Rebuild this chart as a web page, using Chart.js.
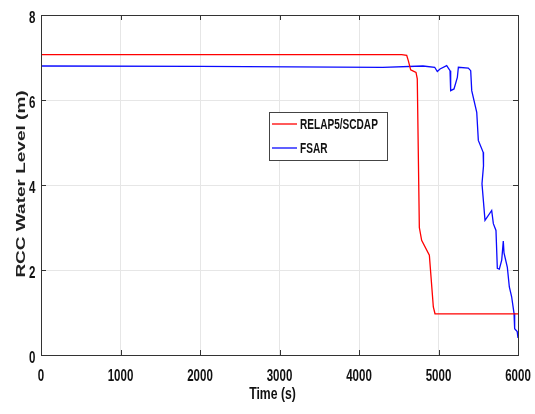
<!DOCTYPE html>
<html>
<head>
<meta charset="utf-8">
<script src="https://cdn.jsdelivr.net/npm/chart.js@4.4.1/dist/chart.umd.min.js"></script>
<style>
  html, body { margin: 0; padding: 0; background: #fff; }
  #wrap { width: 535px; height: 414px; position: relative; }
</style>
</head>
<body>
<div id="wrap"><canvas id="c"></canvas></div>
<script>
// RCC water level vs. time, two code predictions
const relapTime  = [0, 4537, 4600, 4621, 4650, 4683, 4717, 4733, 4759, 4788, 4885, 4935, 4956, 6000];
const relapLevel = [7.07, 7.07, 7.05, 6.92, 6.71, 6.68, 6.65, 6.5, 3.0, 2.7, 2.35, 1.13, 0.97, 0.97];

const fsarTime  = [0, 2000, 4300, 4805, 4952, 4985, 5019, 5103, 5145, 5153, 5195, 5237, 5250, 5375, 5405, 5418, 5481, 5501, 5562, 5566, 5547, 5585, 5669, 5690, 5723, 5740, 5765, 5795, 5815, 5824, 5866, 5891, 5920, 5950, 5958, 5990, 6000];
const fsarLevel = [6.80, 6.79, 6.77, 6.80, 6.77, 6.67, 6.73, 6.81, 6.69, 6.22, 6.26, 6.53, 6.77, 6.75, 6.69, 6.22, 5.71, 5.05, 4.77, 4.45, 4.03, 3.17, 3.40, 3.09, 2.93, 2.04, 2.02, 2.23, 2.68, 2.40, 2.06, 1.60, 1.37, 0.98, 0.62, 0.55, 0.40];

const seriesNames = ['RELAP5/SCDAP', 'FSAR'];
const xTicks = [0, 1000, 2000, 3000, 4000, 5000, 6000];
const yTicks = [0, 2, 4, 6, 8];
const xTitle = 'Time (s)';
const yTitle = 'RCC Water Level (m)';

const SANS = '"Liberation Sans", Arial, Helvetica, sans-serif';
const SQUEEZE = 0.72; // horizontal compression of the figure's lettering

function toPoints(xs, ys) { return xs.map((x, i) => ({ x: x, y: ys[i] })); }

// text drawn narrower along the screen's x direction
function squeezedText(ctx, text, x, y, align, font, color) {
  ctx.save();
  ctx.font = font;
  ctx.fillStyle = color;
  ctx.textAlign = align;
  ctx.textBaseline = 'alphabetic';
  ctx.translate(x, y);
  ctx.scale(SQUEEZE, 1);
  ctx.fillText(text, 0, 0);
  ctx.restore();
}

// Box frame, inward tick marks, axis lettering and an in-plot legend
const framePlugin = {
  id: 'frame',
  afterDatasetsDraw(chart) {
    const { ctx, chartArea: a, scales } = chart;
    ctx.save();
    ctx.strokeStyle = '#333';
    ctx.lineWidth = 1;
    ctx.strokeRect(Math.round(a.left) + 0.5, Math.round(a.top) + 0.5,
                   Math.round(a.right - a.left), Math.round(a.bottom - a.top));
    const tl = 5;
    ctx.beginPath();
    xTicks.forEach(v => {
      const px = Math.round(scales.x.getPixelForValue(v)) + 0.5;
      ctx.moveTo(px, a.bottom); ctx.lineTo(px, a.bottom - tl);
      ctx.moveTo(px, a.top); ctx.lineTo(px, a.top + tl);
    });
    yTicks.forEach(v => {
      const py = Math.round(scales.y.getPixelForValue(v)) + 0.5;
      ctx.moveTo(a.left, py); ctx.lineTo(a.left + tl, py);
      ctx.moveTo(a.right, py); ctx.lineTo(a.right - tl, py);
    });
    ctx.stroke();
    ctx.restore();

    const tickFont = 'bold 16px ' + SANS;
    xTicks.forEach(v => {
      squeezedText(ctx, String(v), scales.x.getPixelForValue(v), a.bottom + 26, 'center', tickFont, '#111');
    });
    yTicks.forEach(v => {
      squeezedText(ctx, String(v), a.left - 5.5, scales.y.getPixelForValue(v) + 7.5, 'right', tickFont, '#111');
    });
    squeezedText(ctx, xTitle, (a.left + a.right) / 2 - 7, a.bottom + 44, 'center', 'bold 17px ' + SANS, '#111');

    // vertical title: compressed across its height (screen x)
    ctx.save();
    ctx.font = 'bold 19px ' + SANS;
    ctx.fillStyle = '#222';
    ctx.textAlign = 'center';
    ctx.textBaseline = 'middle';
    ctx.translate(21, (a.top + a.bottom) / 2 - 1);
    ctx.scale(SQUEEZE, 1);
    ctx.rotate(-Math.PI / 2);
    ctx.fillText(yTitle, 0, 1);
    ctx.restore();

    // legend box
    ctx.save();
    const bx = 269, by = 112, bw = 118, bh = 48;
    ctx.fillStyle = '#fff';
    ctx.fillRect(bx, by, bw, bh);
    ctx.strokeStyle = '#444';
    ctx.lineWidth = 1;
    ctx.strokeRect(bx + 0.5, by + 0.5, bw, bh);
    chart.data.datasets.forEach((ds, i) => {
      const ly = by + 12 + i * 24;
      ctx.strokeStyle = ds.borderColor;
      ctx.lineWidth = 1.3;
      ctx.beginPath();
      ctx.moveTo(bx + 3, ly); ctx.lineTo(bx + 28, ly);
      ctx.stroke();
      squeezedText(ctx, ds.label, bx + 31, ly + 5, 'left', 'bold 14px ' + SANS, '#111');
    });
    ctx.restore();
  }
};

new Chart(document.getElementById('c'), {
  type: 'line',
  data: {
    datasets: [
      { label: seriesNames[0], data: toPoints(relapTime, relapLevel),
        borderColor: 'rgb(255,0,0)', borderWidth: 1.3, pointRadius: 0, tension: 0, fill: false },
      { label: seriesNames[1], data: toPoints(fsarTime, fsarLevel),
        borderColor: 'rgb(10,10,255)', borderWidth: 1.3, pointRadius: 0, tension: 0, fill: false }
    ]
  },
  options: {
    responsive: true,
    maintainAspectRatio: false,
    animation: false,
    layout: { padding: { left: 0, top: 15, right: 17, bottom: 0 } },
    plugins: { legend: { display: false }, tooltip: { enabled: false } },
    scales: {
      x: {
        type: 'linear', min: 0, max: 6000,
        afterBuildTicks: s => { s.ticks = xTicks.map(v => ({ value: v })); },
        afterFit: s => { s.height = 59; },
        ticks: { display: false },
        grid: { color: '#e6e6e6', drawTicks: false },
        border: { display: false },
        title: { display: false }
      },
      y: {
        type: 'linear', min: 0, max: 8,
        afterBuildTicks: s => { s.ticks = yTicks.map(v => ({ value: v })); },
        afterFit: s => { s.width = 41; },
        ticks: { display: false },
        grid: { color: '#e6e6e6', drawTicks: false },
        border: { display: false },
        title: { display: false }
      }
    }
  },
  plugins: [framePlugin]
});
</script>
</body>
</html>
